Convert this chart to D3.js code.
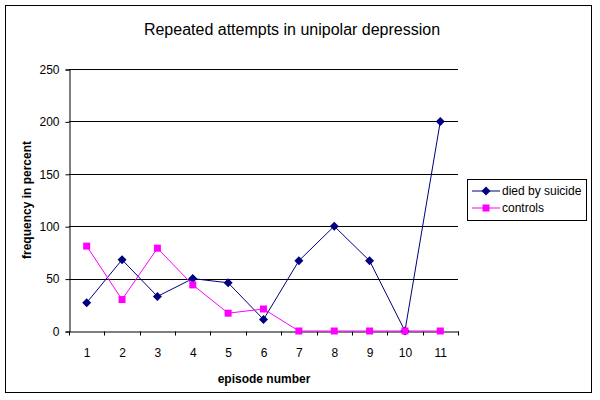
<!DOCTYPE html>
<html><head><meta charset="utf-8">
<script src="https://cdn.jsdelivr.net/npm/d3@7"></script>
<style>body{margin:0;background:#fff}svg{display:block}text{font-family:Arial,"Liberation Sans",sans-serif}</style>
</head><body><svg id="c" width="600" height="400"></svg>
<script>
const categories = ["1","2","3","4","5","6","7","8","9","10","11"];
const diedBySuicide = [27, 68, 33, 50, 46, 11, 67, 100, 67, 0, 200];
const controls = [81, 30, 79, 44, 17, 21, 0, 0, 0, 0, 0];
const yTicks = [0, 50, 100, 150, 200, 250];
const seriesNames = ["died by suicide", "controls"];
const seriesColors = ["#000080", "#FF00FF"];

const svg = d3.select("#c");
svg.append("rect").attr("x",5.5).attr("y",5.5).attr("width",586).attr("height",387)
  .attr("fill","#fff").attr("stroke","#000").attr("stroke-width",1);

const m = {l:69, r:458, t:69, b:331};
const x = d3.scaleBand().domain(categories).range([m.l, m.r]);
const y = d3.scaleLinear().domain([0,250]).range([m.b, m.t]);

svg.append("text").attr("x",292).attr("y",35).attr("text-anchor","middle")
  .attr("font-size",16).text("Repeated attempts in unipolar depression");

// gridlines
svg.append("g").selectAll("line").data(yTicks.filter(d=>d>0)).join("line")
  .attr("x1",m.l).attr("x2",m.r).attr("y1",d=>Math.round(y(d))+0.5).attr("y2",d=>Math.round(y(d))+0.5)
  .attr("stroke","#000").attr("stroke-width",1);

// y axis
const ya = svg.append("g").attr("transform",`translate(${m.l+0.5},0.5)`)
  .call(d3.axisLeft(y).tickValues(yTicks).tickSize(4).tickPadding(6));
ya.select(".domain").attr("stroke","#000");
ya.selectAll("text").attr("font-size",12).attr("font-family","Arial, Liberation Sans, sans-serif").attr("fill","#000");

// x axis
const xa = svg.append("g").attr("transform",`translate(0.5,${m.b+0.5})`)
  .call(d3.axisBottom(x).tickSize(0).tickPadding(17));
xa.select(".domain").attr("stroke","#000");
xa.selectAll("text").attr("font-size",12).attr("font-family","Arial, Liberation Sans, sans-serif").attr("fill","#000");
const bounds = categories.map(c=>x(c)).concat([m.r]);
xa.selectAll("line.b").data(bounds).join("line").attr("class","b")
  .attr("x1",d=>Math.round(d)).attr("x2",d=>Math.round(d)).attr("y1",0).attr("y2",4).attr("stroke","#000");

svg.append("text").attr("transform","translate(31,200) rotate(-90)").attr("text-anchor","middle")
  .attr("font-size",12).attr("font-weight","bold").text("frequency in percent");
svg.append("text").attr("x",264).attr("y",383).attr("text-anchor","middle")
  .attr("font-size",12).attr("font-weight","bold").text("episode number");

const cx = c => x(c) + x.bandwidth()/2;
const line = d3.line().x((d,i)=>cx(categories[i])).y(d=>y(d));
const seriesData = [diedBySuicide, controls];
seriesData.forEach((s,k)=>{
  svg.append("path").datum(s).attr("d",line).attr("fill","none")
    .attr("stroke",seriesColors[k]).attr("stroke-width",1);
});
const diamond = "M0,-4.5L4.5,0L0,4.5L-4.5,0Z";
// markers
svg.append("g").selectAll("path").data(diedBySuicide).join("path")
  .attr("d",diamond)
  .attr("transform",(d,i)=>`translate(${cx(categories[i])},${y(d)})`).attr("fill",seriesColors[0]);
svg.append("g").selectAll("rect").data(controls).join("rect")
  .attr("x",(d,i)=>cx(categories[i])-3.5).attr("y",d=>y(d)-3.5).attr("width",7).attr("height",7)
  .attr("fill",seriesColors[1]);

// legend
const lg = svg.append("g");
lg.append("rect").attr("x",467.5).attr("y",179.5).attr("width",119).attr("height",41)
  .attr("fill","#fff").attr("stroke","#000");
seriesNames.forEach((n,k)=>{
  const yy = 191 + k*17;
  lg.append("line").attr("x1",472).attr("x2",500).attr("y1",yy).attr("y2",yy).attr("stroke",seriesColors[k]);
  if(k===0) lg.append("path").attr("d",diamond).attr("transform",`translate(486,${yy})`).attr("fill",seriesColors[k]);
  else lg.append("rect").attr("x",482.5).attr("y",yy-3.5).attr("width",7).attr("height",7).attr("fill",seriesColors[k]);
  lg.append("text").attr("x",502).attr("y",yy+4).attr("font-size",12).text(n);
});
</script></body></html>
